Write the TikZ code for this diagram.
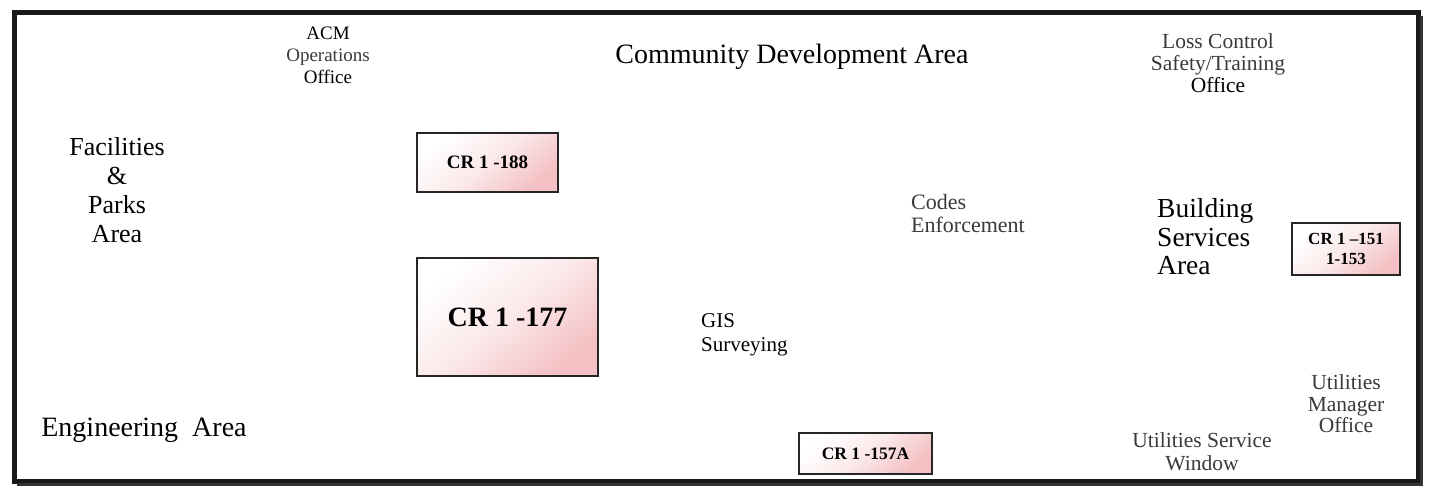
\documentclass[tikz,border=0pt]{standalone}
\usepackage{fontspec}
\setmainfont{Liberation Serif}
\definecolor{txtgray}{HTML}{3A3A3A}
\definecolor{roompink}{HTML}{F4C0C3}
\tikzset{
  room/.style={draw=black!85, line width=2pt, inner sep=0pt, font=\bfseries,
    top color=white, bottom color=roompink, middle color=roompink!35, shading angle=40},
  lbl/.style={inner sep=0pt, align=center},
}
\newcommand{\fs}[2]{\fontsize{#1}{#2}\selectfont}
\begin{document}
\begin{tikzpicture}[x=1pt,y=-1pt]
\useasboundingbox (0,0) rectangle (1429,492);
\fill[white] (0,0) rectangle (1429,492);
% outer frame (right and bottom edges slightly heavier)
\draw[line width=5pt, black!90] (14,13) rectangle (1418,481);
\draw[line width=3pt, black!80] (1421,16) -- (1421,484) -- (17,484);
% rooms
\node[room, minimum width=141, minimum height=59, font=\fs{19}{22}\bfseries] (r188) at (487.5,162.5) {CR 1 -188};
\node[room, minimum width=181, minimum height=118, font=\fs{28}{32}\bfseries] (r177) at (507.5,317) {CR 1 -177};
\node[room, minimum width=133, minimum height=41, font=\fs{17.5}{20}\bfseries] (r157) at (865.5,453.5) {CR 1 -157A};
\node[room, minimum width=108, minimum height=52, align=center, font=\fs{17}{20}\bfseries] (r151) at (1346,249) {CR 1 --151\\1-153};
% labels
\node[lbl, font=\fs{19}{22}] (acm) at (328,55) {ACM\\\textcolor{txtgray}{Operations}\\Office};
\node[lbl, font=\fs{28}{30}] (cda) at (792,57) {Community Development Area};
\node[lbl, font=\fs{21.5}{22}, text=txtgray] (loss) at (1218,63) {Loss Control\\Safety/Training\\\textcolor{black}{Office}};
\node[lbl, font=\fs{26}{29}] (fac) at (117,190) {Facilities\\\&\\Parks\\Area};
\node[lbl, anchor=west, align=left, font=\fs{22}{23}, text=txtgray] (codes) at (911,213) {Codes\\Enforcement};
\node[lbl, anchor=west, align=left, font=\fs{27.5}{28.5}] (bsa) at (1157,237) {Building\\Services\\Area};
\node[lbl, anchor=west, align=left, font=\fs{21}{24}] (gis) at (701,335) {GIS\\Surveying};
\node[lbl, font=\fs{28}{30}] (eng) at (144,430) {Engineering\ \ Area};
\node[lbl, font=\fs{21.5}{23}, text=txtgray] (usw) at (1202,452) {Utilities Service\\Window};
\node[lbl, font=\fs{21.5}{21.5}, text=txtgray] (umo) at (1346,404) {Utilities\\Manager\\Office};
\end{tikzpicture}
\end{document}
